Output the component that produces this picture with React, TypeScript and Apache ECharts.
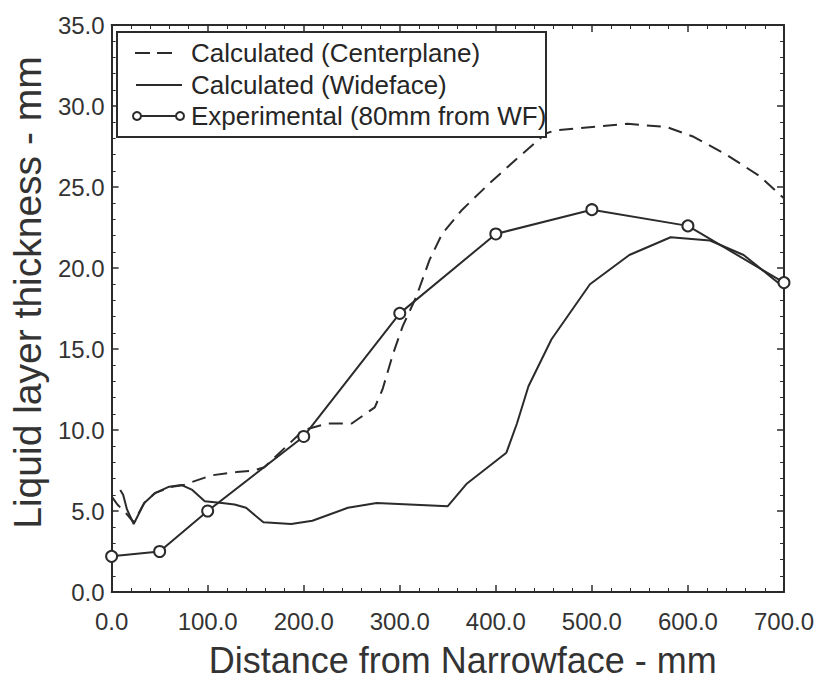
import React, { useEffect, useRef } from "react";
import * as echarts from "echarts";

const centerX = [0, 6, 16, 23, 34, 45, 63, 75, 84, 104, 130, 148, 159, 200, 225, 250, 274, 282, 293, 303, 317, 331, 344, 365, 393, 421, 452, 462, 537, 578, 606, 640, 674, 700];
const centerY = [5.9, 5.4, 4.8, 4.3, 5.5, 6.1, 6.5, 6.6, 6.8, 7.2, 7.4, 7.5, 7.7, 10.0, 10.4, 10.4, 11.4, 12.5, 14.7, 16.4, 18.2, 20.5, 22.1, 23.6, 25.2, 26.7, 28.3, 28.5, 28.9, 28.7, 28.1, 27.0, 25.7, 24.3];

const wideX = [9, 12, 16, 23, 34, 45, 60, 73, 84, 97, 115, 128, 140, 158, 187, 209, 246, 276, 350, 370, 411, 422, 434, 458, 498, 539, 582, 623, 658, 700];
const wideY = [6.3, 6.0, 5.1, 4.2, 5.5, 6.1, 6.5, 6.6, 6.3, 5.6, 5.5, 5.4, 5.2, 4.3, 4.2, 4.4, 5.2, 5.5, 5.3, 6.7, 8.6, 10.4, 12.7, 15.6, 19.0, 20.8, 21.9, 21.7, 20.8, 18.8];

const expX = [0, 50, 100, 200, 300, 400, 500, 600, 700];
const expY = [2.2, 2.5, 5.0, 9.6, 17.2, 22.1, 23.6, 22.6, 19.1];

const legendLabels = ["Calculated (Centerplane)", "Calculated (Wideface)", "Experimental (80mm from WF)"];
const xTitle = "Distance from Narrowface - mm";
const yTitle = "Liquid layer thickness - mm";

const INK = "#2b2b2b";
const TXT = "#333333";
const FONT = "Liberation Sans, Arial, Helvetica, sans-serif";

function pairs(xs: number[], ys: number[]) {
  return xs.map((x, i) => [x, ys[i]]);
}

export default function App() {
  const ref = useRef<HTMLDivElement>(null);
  useEffect(() => {
    if (!ref.current) return;
    const chart = echarts.init(ref.current, undefined, { renderer: "svg" });
    const axisCommon = {
      axisLine: { show: true, onZero: false, lineStyle: { color: INK, width: 2 } },
      axisTick: { show: true, inside: true, length: 7, lineStyle: { color: INK, width: 1.5 } },
      minorTick: { show: true, splitNumber: 5, length: 4, lineStyle: { color: INK, width: 1 } },
      splitLine: { show: false },
      minorSplitLine: { show: false },
    };
    const legendY = [53, 85, 116];
    chart.setOption({
      animation: false,
      backgroundColor: "#ffffff",
      grid: { left: 109, right: 29, top: 25, bottom: 91, containLabel: false },
      xAxis: [
        {
          type: "value",
          min: 0,
          max: 700,
          interval: 100,
          name: xTitle,
          nameLocation: "middle",
          nameGap: 50,
          nameTextStyle: { fontFamily: FONT, fontSize: 36, color: TXT, padding: [0, 0, 0, 30] },
          axisLabel: {
            fontFamily: FONT,
            fontSize: 24,
            color: TXT,
            margin: 17,
            formatter: (v: number) => v.toFixed(1),
          },
          ...axisCommon,
        },
        {
          type: "value",
          position: "top",
          min: 0,
          max: 700,
          interval: 100,
          axisLabel: { show: false },
          ...axisCommon,
        },
      ],
      yAxis: [
        {
          type: "value",
          min: 0,
          max: 35,
          interval: 5,
          name: yTitle,
          nameLocation: "middle",
          nameGap: 58,
          nameTextStyle: { fontFamily: FONT, fontSize: 39, color: TXT, padding: [0, 0, 0, 32] },
          axisLabel: {
            fontFamily: FONT,
            fontSize: 24,
            color: TXT,
            margin: 7,
            formatter: (v: number) => v.toFixed(1),
          },
          ...axisCommon,
        },
        {
          type: "value",
          position: "right",
          min: 0,
          max: 35,
          interval: 5,
          axisLabel: { show: false },
          ...axisCommon,
        },
      ],
      series: [
        {
          name: legendLabels[0],
          type: "line",
          data: pairs(centerX, centerY),
          showSymbol: false,
          lineStyle: { color: INK, width: 2, type: [14, 8] },
          z: 2,
        },
        {
          name: legendLabels[1],
          type: "line",
          data: pairs(wideX, wideY),
          showSymbol: false,
          lineStyle: { color: INK, width: 2 },
          z: 2,
        },
        {
          name: legendLabels[2],
          type: "line",
          data: pairs(expX, expY),
          symbol: "circle",
          symbolSize: 11,
          itemStyle: { color: "#ffffff", borderColor: INK, borderWidth: 2 },
          lineStyle: { color: INK, width: 2 },
          z: 3,
        },
      ],
      graphic: [
        {
          type: "rect",
          z: 10,
          shape: { x: 117, y: 32, width: 429, height: 105 },
          style: { fill: "#ffffff", stroke: INK, lineWidth: 2 },
        },
        {
          type: "line",
          z: 11,
          shape: { x1: 135, y1: legendY[0], x2: 172, y2: legendY[0] },
          style: { stroke: INK, lineWidth: 2, lineDash: [15, 7] },
        },
        {
          type: "line",
          z: 11,
          shape: { x1: 136, y1: legendY[1], x2: 182, y2: legendY[1] },
          style: { stroke: INK, lineWidth: 2 },
        },
        {
          type: "line",
          z: 11,
          shape: { x1: 137, y1: legendY[2], x2: 180, y2: legendY[2] },
          style: { stroke: INK, lineWidth: 2 },
        },
        {
          type: "circle",
          z: 12,
          shape: { cx: 137, cy: legendY[2], r: 4 },
          style: { fill: "#ffffff", stroke: INK, lineWidth: 2 },
        },
        {
          type: "circle",
          z: 12,
          shape: { cx: 180, cy: legendY[2], r: 4 },
          style: { fill: "#ffffff", stroke: INK, lineWidth: 2 },
        },
        ...legendLabels.map((t, i) => ({
          type: "text",
          z: 12,
          x: 191,
          y: legendY[i],
          style: {
            text: t,
            fill: "#262626",
            font: `26px ${FONT}`,
            verticalAlign: "middle",
            align: "left",
          },
        })),
      ],
    });
    return () => chart.dispose();
  }, []);
  return (
    <div
      ref={ref}
      style={{ position: "fixed", left: 0, top: 0, width: 817, height: 683, background: "#fff" }}
    />
  );
}
